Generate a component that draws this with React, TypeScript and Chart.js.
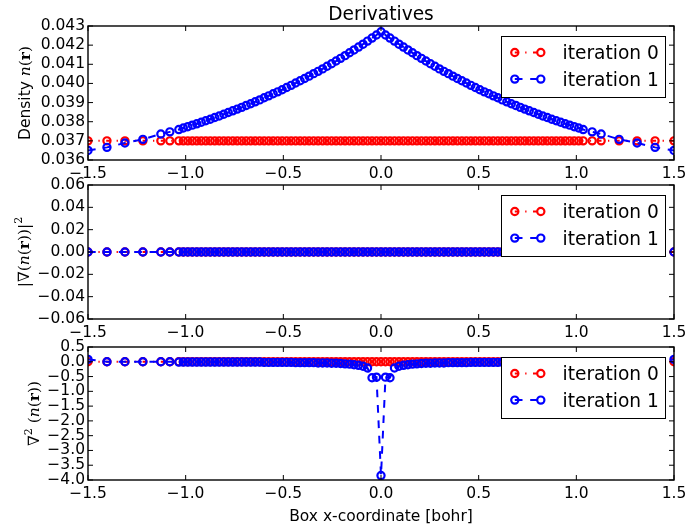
import React, { useEffect, useRef } from 'react';
import { Chart, registerables } from 'chart.js';

Chart.register(...registerables);

// ---------------- data ----------------
const xGrid = [
  -1.5, -1.403, -1.311, -1.219, -1.127, -1.081,
  -1.035, -1.012, -0.989, -0.966, -0.943, -0.92, -0.897, -0.874, -0.851, -0.828,
  -0.805, -0.782, -0.759, -0.736, -0.713, -0.69, -0.667, -0.644, -0.621, -0.598,
  -0.575, -0.552, -0.529, -0.506, -0.483, -0.46, -0.437, -0.414, -0.391, -0.368,
  -0.345, -0.322, -0.299, -0.276, -0.253, -0.23, -0.207, -0.184, -0.161, -0.138,
  -0.115, -0.092, -0.069, -0.046, -0.023,
  0,
  0.023, 0.046, 0.069, 0.092, 0.115,
  0.138, 0.161, 0.184, 0.207, 0.23, 0.253, 0.276, 0.299, 0.322, 0.345,
  0.368, 0.391, 0.414, 0.437, 0.46, 0.483, 0.506, 0.529, 0.552, 0.575,
  0.598, 0.621, 0.644, 0.667, 0.69, 0.713, 0.736, 0.759, 0.782, 0.805,
  0.828, 0.851, 0.874, 0.897, 0.92, 0.943, 0.966, 0.989, 1.012, 1.035,
  1.081, 1.127, 1.219, 1.311, 1.403, 1.5,
];

const densityIter0 = [
  0.037, 0.037, 0.037, 0.037, 0.037, 0.037, 0.037, 0.037, 0.037, 0.037,
  0.037, 0.037, 0.037, 0.037, 0.037, 0.037, 0.037, 0.037, 0.037, 0.037,
  0.037, 0.037, 0.037, 0.037, 0.037, 0.037, 0.037, 0.037, 0.037, 0.037,
  0.037, 0.037, 0.037, 0.037, 0.037, 0.037, 0.037, 0.037, 0.037, 0.037,
  0.037, 0.037, 0.037, 0.037, 0.037, 0.037, 0.037, 0.037, 0.037, 0.037,
  0.037, 0.037, 0.037, 0.037, 0.037, 0.037, 0.037, 0.037, 0.037, 0.037,
  0.037, 0.037, 0.037, 0.037, 0.037, 0.037, 0.037, 0.037, 0.037, 0.037,
  0.037, 0.037, 0.037, 0.037, 0.037, 0.037, 0.037, 0.037, 0.037, 0.037,
  0.037, 0.037, 0.037, 0.037, 0.037, 0.037, 0.037, 0.037, 0.037, 0.037,
  0.037, 0.037, 0.037, 0.037, 0.037, 0.037, 0.037, 0.037, 0.037, 0.037,
  0.037, 0.037, 0.037,
];

const densityIter1 = [
  0.0365, 0.03666, 0.03689, 0.03708, 0.03736, 0.03747,
  0.03759, 0.03767, 0.03774, 0.03782, 0.03789, 0.03797, 0.03805, 0.03813, 0.03822, 0.0383,
  0.03839, 0.03848, 0.03857, 0.03866, 0.03875, 0.03885, 0.03894, 0.03904, 0.03914, 0.03925,
  0.03935, 0.03946, 0.03956, 0.03967, 0.03979, 0.0399, 0.04002, 0.04014, 0.04026, 0.04038,
  0.04051, 0.04063, 0.04076, 0.0409, 0.04103, 0.04117, 0.04131, 0.04145, 0.0416, 0.04175,
  0.0419, 0.04205, 0.04221, 0.04237, 0.04253,
  0.0427,
  0.04253, 0.04237, 0.04221, 0.04205, 0.0419,
  0.04175, 0.0416, 0.04145, 0.04131, 0.04117, 0.04103, 0.0409, 0.04076, 0.04063, 0.04051,
  0.04038, 0.04026, 0.04014, 0.04002, 0.0399, 0.03979, 0.03967, 0.03956, 0.03946, 0.03935,
  0.03925, 0.03914, 0.03904, 0.03894, 0.03885, 0.03875, 0.03866, 0.03857, 0.03848, 0.03839,
  0.0383, 0.03822, 0.03813, 0.03805, 0.03797, 0.03789, 0.03782, 0.03774, 0.03767, 0.03759,
  0.03747, 0.03736, 0.03708, 0.03689, 0.03666, 0.0365,
];

const gradIter0 = [
  0, 0, 0, 0, 0, 0, 0, 0, 0, 0, 0, 0, 0, 0, 0, 0, 0, 0, 0, 0,
  0, 0, 0, 0, 0, 0, 0, 0, 0, 0, 0, 0, 0, 0, 0, 0, 0, 0, 0, 0,
  0, 0, 0, 0, 0, 0, 0, 0, 0, 0, 0, 0, 0, 0, 0, 0, 0, 0, 0, 0,
  0, 0, 0, 0, 0, 0, 0, 0, 0, 0, 0, 0, 0, 0, 0, 0, 0, 0, 0, 0,
  0, 0, 0, 0, 0, 0, 0, 0, 0, 0, 0, 0, 0, 0, 0, 0, 0, 0, 0, 0,
  0, 0, 0,
];

const gradIter1 = [
  0, 0, 0, 0, 0, 0, 0, 0, 0, 0, 0, 0, 0, 0, 0, 0, 0, 0, 0, 0,
  0, 0, 0, 0, 0, 0, 0, 0, 0, 0, 0, 0, 0, 0, 0, 0, 0, 0, 0, 0,
  0, 0, 0, 0, 0, 0, 0, 0, 0, 0, 0, 0, 0, 0, 0, 0, 0, 0, 0, 0,
  0, 0, 0, 0, 0, 0, 0, 0, 0, 0, 0, 0, 0, 0, 0, 0, 0, 0, 0, 0,
  0, 0, 0, 0, 0, 0, 0, 0, 0, 0, 0, 0, 0, 0, 0, 0, 0, 0, 0, 0,
  0, 0, 0,
];

const lapIter0 = [
  0, 0, 0, 0, 0, 0, 0, 0, 0, 0, 0, 0, 0, 0, 0, 0, 0, 0, 0, 0,
  0, 0, 0, 0, 0, 0, 0, 0, 0, 0, 0, 0, 0, 0, 0, 0, 0, 0, 0, 0,
  0, 0, 0, 0, 0, 0, 0, 0, 0, 0, 0, 0, 0, 0, 0, 0, 0, 0, 0, 0,
  0, 0, 0, 0, 0, 0, 0, 0, 0, 0, 0, 0, 0, 0, 0, 0, 0, 0, 0, 0,
  0, 0, 0, 0, 0, 0, 0, 0, 0, 0, 0, 0, 0, 0, 0, 0, 0, 0, 0, 0,
  0, 0, 0,
];

const lapIter1 = [
  0.08, 0, 0, 0, 0, 0,
  -0.01, -0.01, -0.01, -0.01, -0.01, -0.01, -0.01, -0.01, -0.01, -0.01,
  -0.01, -0.01, -0.01, -0.01, -0.01, -0.01, -0.01, -0.01, -0.01,
  -0.02, -0.02, -0.02, -0.02, -0.02, -0.02, -0.02,
  -0.03, -0.03, -0.03, -0.03, -0.03,
  -0.04, -0.04, -0.04,
  -0.05, -0.05, -0.06, -0.07, -0.08, -0.1, -0.12, -0.15, -0.21, -0.54, -0.52,
  -3.85,
  -0.52, -0.54, -0.21, -0.15, -0.12, -0.1, -0.08, -0.07, -0.06, -0.05, -0.05,
  -0.04, -0.04, -0.04,
  -0.03, -0.03, -0.03, -0.03, -0.03,
  -0.02, -0.02, -0.02, -0.02, -0.02, -0.02, -0.02,
  -0.01, -0.01, -0.01, -0.01, -0.01, -0.01, -0.01, -0.01, -0.01, -0.01,
  -0.01, -0.01, -0.01, -0.01, -0.01, -0.01, -0.01, -0.01, -0.01,
  0, 0, 0, 0, 0, 0.08,
];

const seriesNames = ['iteration 0', 'iteration 1'];
const xTicks = [-1.5, -1, -0.5, 0, 0.5, 1, 1.5];
const densityTicks = [0.036, 0.037, 0.038, 0.039, 0.04, 0.041, 0.042, 0.043];
const gradTicks = [-0.06, -0.04, -0.02, 0, 0.02, 0.04, 0.06];
const lapTicks = [-4, -3.5, -3, -2.5, -2, -1.5, -1, -0.5, 0, 0.5];

// ---------------- layout / style ----------------
const W = 689;
const H = 526;
const PLOT_LEFT = 88;
const PLOT_RIGHT = 674;
const Y_W = 60;
const X_H = 30;
const SANS = '"DejaVu Sans", sans-serif';
const SERIF = '"DejaVu Serif", serif';
const TICK_SIZE = 15.5;
const BIG_SIZE = 18.6;
const RED = '#ff0000';
const BLUE = '#0000ff';

const styles = [
  { color: RED, dash: [3.9, 6.5, 1.3, 6.5], order: 1 },
  { color: BLUE, dash: [7.7, 7.7], order: 0 },
];
const LINE_W = 2;
const POINT_R = 3.6;
const POINT_BW = 2.2;

type Seg = { t: string; f: string; dy?: number };
const rm = `${TICK_SIZE}px ${SERIF}`;
const it = `italic ${TICK_SIZE}px ${SERIF}`;
const bd = `bold ${TICK_SIZE}px ${SERIF}`;
const sup = `11px ${SERIF}`;

const densityLabel: Seg[] = [
  { t: 'Density ', f: `${TICK_SIZE}px ${SANS}` },
  { t: 'n', f: it },
  { t: '(', f: rm },
  { t: 'r', f: bd },
  { t: ')', f: rm },
];
const gradLabel: Seg[] = [
  { t: '|∇(', f: rm },
  { t: 'n', f: it },
  { t: '(', f: rm },
  { t: 'r', f: bd },
  { t: '))|', f: rm },
  { t: '2', f: sup, dy: -7 },
];
const lapLabel: Seg[] = [
  { t: '∇', f: rm },
  { t: '2', f: sup, dy: -7 },
  { t: ' (', f: rm },
  { t: 'n', f: it },
  { t: '(', f: rm },
  { t: 'r', f: bd },
  { t: '))', f: rm },
];

function fmt(v: number, d: number) {
  const s = (Math.abs(v) < 1e-12 ? 0 : v).toFixed(d);
  return s.replace('-', '\u2212');
}

function drawRich(ctx: CanvasRenderingContext2D, segs: Seg[], bx: number, cy: number) {
  ctx.save();
  ctx.translate(bx, cy);
  ctx.rotate(-Math.PI / 2);
  const widths = segs.map((s) => {
    ctx.font = s.f;
    return ctx.measureText(s.t).width;
  });
  const total = widths.reduce((a, b) => a + b, 0);
  let x = -total / 2;
  ctx.fillStyle = '#000';
  ctx.textAlign = 'left';
  ctx.textBaseline = 'alphabetic';
  segs.forEach((s, i) => {
    ctx.font = s.f;
    ctx.fillText(s.t, x, s.dy || 0);
    x += widths[i];
  });
  ctx.restore();
}

const decorPlugin = {
  id: 'decor',
  afterDatasetsDraw(chart: any, _args: any, opts: any) {
    const ctx: CanvasRenderingContext2D = chart.ctx;
    const a = chart.chartArea;
    const xs = chart.scales.x;
    const ys = chart.scales.y;
    ctx.save();
    ctx.setLineDash([]);
    ctx.strokeStyle = '#000';
    ctx.lineWidth = 1;
    const TL = 5;
    ctx.beginPath();
    xs.ticks.forEach((t: any) => {
      const px = xs.getPixelForValue(t.value);
      ctx.moveTo(px, a.bottom);
      ctx.lineTo(px, a.bottom - TL);
      ctx.moveTo(px, a.top);
      ctx.lineTo(px, a.top + TL);
    });
    ys.ticks.forEach((t: any) => {
      const py = ys.getPixelForValue(t.value);
      ctx.moveTo(a.left, py);
      ctx.lineTo(a.left + TL, py);
      ctx.moveTo(a.right, py);
      ctx.lineTo(a.right - TL, py);
    });
    ctx.stroke();
    ctx.lineWidth = 1.4;
    ctx.strokeRect(a.left, a.top, a.right - a.left, a.bottom - a.top);

    // legend
    const bw = 164;
    const bh = 61;
    const bx = Math.round(a.right - 9 - bw) + 0.5;
    const by = Math.round(a.top + 10) + 0.5;
    ctx.fillStyle = '#fff';
    ctx.fillRect(bx, by, bw, bh);
    ctx.lineWidth = 1;
    ctx.strokeStyle = '#000';
    ctx.strokeRect(bx, by, bw, bh);
    seriesNames.forEach((name, i) => {
      const st = styles[i];
      const cy = by + 16 + i * 26.6;
      const x1 = bx + 13.3;
      const x2 = bx + 39.3;
      ctx.strokeStyle = st.color;
      ctx.lineWidth = LINE_W;
      ctx.setLineDash(st.dash);
      ctx.beginPath();
      ctx.moveTo(x1, cy);
      ctx.lineTo(x2, cy);
      ctx.stroke();
      ctx.setLineDash([]);
      ctx.lineWidth = POINT_BW;
      [x1, x2].forEach((px) => {
        ctx.beginPath();
        ctx.arc(px, cy, POINT_R, 0, Math.PI * 2);
        ctx.stroke();
      });
      ctx.fillStyle = '#000';
      ctx.font = `${BIG_SIZE}px ${SANS}`;
      ctx.textAlign = 'left';
      ctx.textBaseline = 'alphabetic';
      ctx.fillText(name, bx + 61, cy + 6.7);
    });
    ctx.restore();
  },
  afterDraw(chart: any, _args: any, opts: any) {
    const ctx: CanvasRenderingContext2D = chart.ctx;
    const a = chart.chartArea;
    const cx = (a.left + a.right) / 2;
    ctx.save();
    if (opts.yLabel) drawRich(ctx, opts.yLabel, opts.yLabelX, (a.top + a.bottom) / 2);
    ctx.fillStyle = '#000';
    ctx.textAlign = 'center';
    ctx.textBaseline = 'alphabetic';
    if (opts.title) {
      ctx.font = `${BIG_SIZE}px ${SANS}`;
      ctx.fillText(opts.title, cx, a.top - 6);
    }
    if (opts.xLabel) {
      ctx.font = `${TICK_SIZE}px ${SANS}`;
      ctx.fillText(opts.xLabel, cx, a.bottom + 41);
    }
    ctx.restore();
  },
};

type PanelCfg = {
  s0: number[];
  s1: number[];
  yTicks: number[];
  dec: number;
  top: number;
  bottom: number;
  yLabel: Seg[];
  yLabelX: number;
  title?: string;
  xLabel?: string;
};

const panels: PanelCfg[] = [
  { s0: densityIter0, s1: densityIter1, yTicks: densityTicks, dec: 3, top: 26, bottom: 160, yLabel: densityLabel, yLabelX: 30, title: 'Derivatives' },
  { s0: gradIter0, s1: gradIter1, yTicks: gradTicks, dec: 2, top: 185, bottom: 319, yLabel: gradLabel, yLabelX: 29 },
  { s0: lapIter0, s1: lapIter1, yTicks: lapTicks, dec: 1, top: 347, bottom: 480, yLabel: lapLabel, yLabelX: 39, xLabel: 'Box x-coordinate [bohr]' },
];

function makeChart(canvas: HTMLCanvasElement, p: PanelCfg) {
  const series = [p.s0, p.s1];
  const datasets = series.map((s, i) => ({
    label: seriesNames[i],
    data: xGrid.map((x, j) => ({ x, y: s[j] })),
    borderColor: styles[i].color,
    borderDash: styles[i].dash,
    borderWidth: LINE_W,
    pointRadius: POINT_R,
    pointBorderWidth: POINT_BW,
    pointBorderColor: styles[i].color,
    pointBackgroundColor: 'rgba(0,0,0,0)',
    pointStyle: 'circle',
    fill: false,
    tension: 0,
    clip: 0,
    order: styles[i].order,
  }));
  const yMin = p.yTicks[0];
  const yMax = p.yTicks[p.yTicks.length - 1];
  return new Chart(canvas, {
    type: 'line',
    data: { datasets } as any,
    plugins: [decorPlugin as any],
    options: {
      responsive: false,
      maintainAspectRatio: false,
      animation: false,
      devicePixelRatio: 1,
      events: [],
      layout: {
        autoPadding: false,
        padding: {
          left: PLOT_LEFT - Y_W,
          right: W - PLOT_RIGHT,
          top: p.top,
          bottom: H - p.bottom - X_H,
        },
      },
      scales: {
        x: {
          type: 'linear',
          min: -1.5,
          max: 1.5,
          afterBuildTicks: (s: any) => {
            s.ticks = xTicks.map((v) => ({ value: v }));
          },
          afterFit: (s: any) => {
            s.height = X_H;
            s.paddingLeft = 0;
            s.paddingRight = 0;
          },
          ticks: {
            callback: (v: any) => fmt(Number(v), 1),
            font: { family: SANS, size: TICK_SIZE },
            color: '#000',
            padding: 4.5,
            maxRotation: 0,
            minRotation: 0,
            autoSkip: false,
          },
          grid: { display: false, drawTicks: false },
          border: { display: false },
        },
        y: {
          type: 'linear',
          min: yMin,
          max: yMax,
          afterBuildTicks: (s: any) => {
            s.ticks = p.yTicks.map((v) => ({ value: v }));
          },
          afterFit: (s: any) => {
            s.width = Y_W;
            s.paddingTop = 0;
            s.paddingBottom = 0;
          },
          ticks: {
            callback: (v: any) => fmt(Number(v), p.dec),
            font: { family: SANS, size: TICK_SIZE },
            color: '#000',
            padding: 3,
            autoSkip: false,
          },
          grid: { display: false, drawTicks: false },
          border: { display: false },
        },
      },
      plugins: {
        legend: { display: false },
        tooltip: { enabled: false },
        title: { display: false },
        decor: { yLabel: p.yLabel, yLabelX: p.yLabelX, title: p.title, xLabel: p.xLabel },
      } as any,
    } as any,
  });
}

export default function App() {
  const r0 = useRef<HTMLCanvasElement>(null);
  const r1 = useRef<HTMLCanvasElement>(null);
  const r2 = useRef<HTMLCanvasElement>(null);

  useEffect(() => {
    const refs = [r0, r1, r2];
    const charts = refs.map((r, i) => makeChart(r.current as HTMLCanvasElement, panels[i]));
    return () => charts.forEach((c) => c.destroy());
  }, []);

  const cs: React.CSSProperties = { position: 'absolute', left: 0, top: 0, width: W, height: H };
  return (
    <div style={{ position: 'fixed', left: 0, top: 0, width: W, height: H, background: '#fff' }}>
      <canvas ref={r0} width={W} height={H} style={cs} />
      <canvas ref={r1} width={W} height={H} style={cs} />
      <canvas ref={r2} width={W} height={H} style={cs} />
    </div>
  );
}
